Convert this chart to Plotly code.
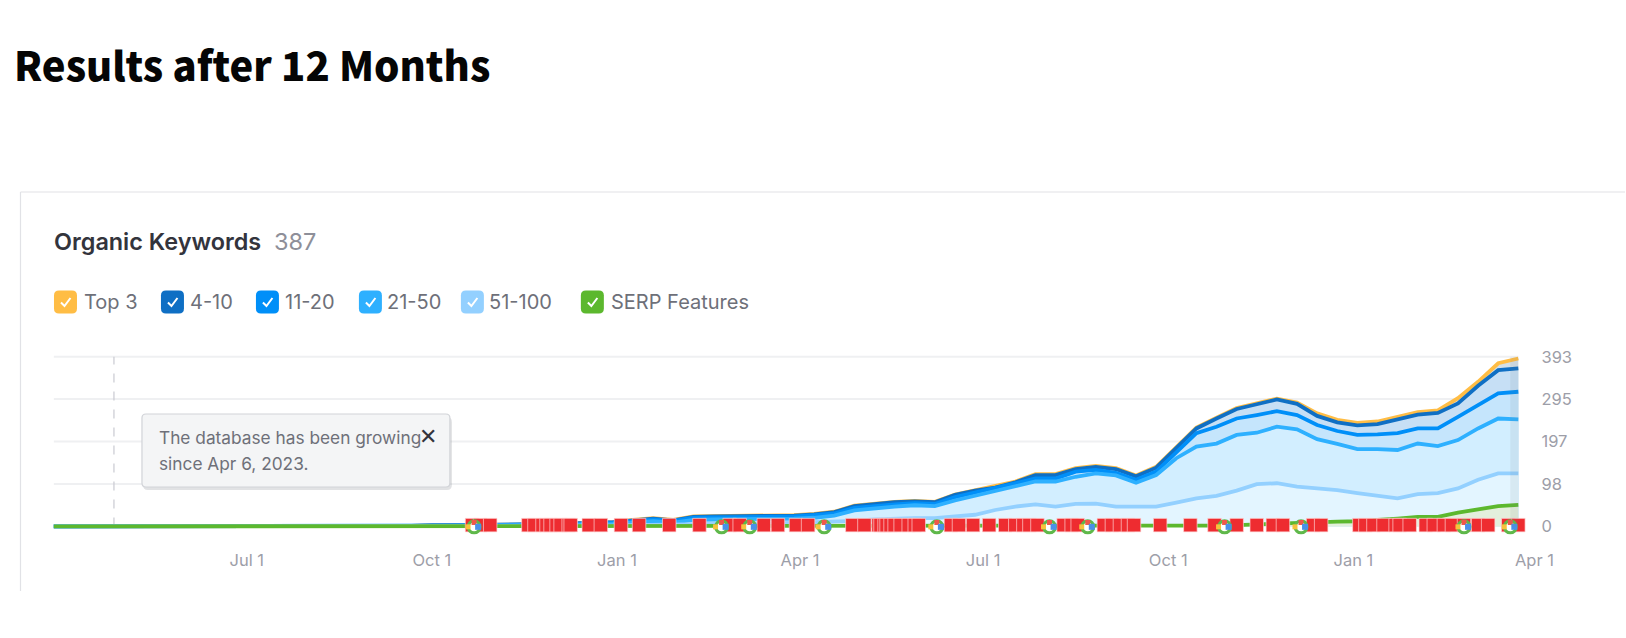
import pandas as pd
import plotly.graph_objects as go

W, H = 1640, 638
XS = 1.009  # horizontal fit to the reference

# ---- data (10 day steps from 2023-09-21) ----
dates = ["2023-03-27", "2023-09-11"] + list(pd.date_range("2023-09-21", "2025-03-24", freq="10D").strftime("%Y-%m-%d"))

top3 = [0, 0, 1, 3, 3, 3, 4, 4, 5, 5, 7, 8, 10, 15, 19, 15, 23, 24, 24, 26, 26, 26, 29, 34, 48, 53, 57, 59, 57, 74, 84,
        93, 104, 121, 121, 135, 140, 135, 118, 138, 185, 229, 252, 274, 285, 296, 287, 262, 247, 240, 243, 253, 265, 269, 297, 335, 378, 389]
pos_4_10 = [0, 0, 1, 3, 3, 3, 4, 4, 5, 5, 7, 8, 10, 14, 18, 14, 22, 23, 23, 25, 25, 25, 28, 33, 47, 52, 56, 58, 56, 73, 83,
            90, 102, 119, 119, 133, 138, 133, 116, 136, 183, 227, 250, 272, 283, 294, 284, 256, 241, 234, 237, 247, 259, 263, 285, 326, 362, 366]
pos_11_20 = [0, 0, 1, 2, 2, 3, 3, 4, 4, 5, 6, 7, 9, 12, 16, 13, 20, 21, 21, 22, 23, 23, 26, 30, 43, 48, 51, 54, 52, 68, 78,
             88, 100, 111, 111, 127, 131, 124, 108, 127, 173, 216, 231, 250, 258, 267, 258, 235, 221, 212, 213, 216, 227, 227, 254, 281, 308, 312]
pos_21_50 = [0, 0, 0, 1, 1, 2, 2, 2, 3, 3, 4, 5, 6, 9, 12, 9, 15, 16, 16, 17, 18, 18, 20, 25, 37, 42, 46, 49, 47, 60, 71,
             82, 94, 104, 104, 115, 123, 118, 101, 119, 158, 185, 192, 212, 217, 231, 225, 202, 191, 179, 179, 177, 192, 186, 200, 227, 250, 248]
pos_51_100 = [0, 0, 0, 0, 0, 1, 1, 1, 1, 1, 1, 2, 2, 3, 4, 3, 5, 6, 6, 7, 7, 8, 9, 11, 13, 16, 18, 19, 19, 22, 27,
              38, 46, 51, 46, 52, 53, 46, 46, 46, 55, 65, 71, 83, 98, 100, 92, 88, 84, 77, 72, 65, 75, 77, 88, 108, 123, 123]
serp = [0, 0, 0, 0, 0, 0, 0, 0, 0, 0, 0, 0, 0, 0, 0, 0, 0, 0, 0, 0, 0, 0, 0, 0, 0, 0, 0, 0, 0, 0, 0,
        0, 0, 0, 0, 0, 0, 0, 0, 1, 1, 2, 2, 3, 5, 6, 8, 10, 11, 12, 14, 18, 22, 22, 32, 40, 47, 50]

# days after 2023-07-01 of the red flags and the google marks
flag_days = [112, 116, 121, 140, 143, 147, 149, 151, 154, 156, 160, 161, 170, 176, 186, 195, 210, 225, 240, 245, 257, 264, 273, 279,
             301, 307, 314, 315, 317, 318, 320, 322, 325, 329, 332, 334, 350, 354, 361, 369, 377, 382, 386, 389, 393, 406, 410, 413,
             426, 430, 434, 438, 441, 454, 469, 481, 492, 502, 510, 515, 530, 534, 553, 556, 560, 565, 571, 573, 578, 586, 590, 595,
             599, 605, 612, 617, 627, 632]
google_days = [113, 236, 250, 287, 343, 399, 418, 486, 524, 605, 628]

tick_dates = ["2023-07-01", "2023-10-01", "2024-01-01", "2024-04-01", "2024-07-01", "2024-10-01", "2025-01-01", "2025-04-01"]
tick_labels = ["Jul 1", "Oct 1", "Jan 1", "Apr 1", "Jul 1", "Oct 1", "Jan 1", "Apr 1"]
y_ticks = [0, 98, 197, 295, 393]

legend_labels = ["Top 3", "4-10", "11-20", "21-50", "51-100", "SERP Features"]
legend_colors = ["#ffbd45", "#0f6fc4", "#008ff8", "#2eb0ff", "#93d0ff", "#5cb82e"]
legend_box_x = [54, 161, 256, 359, 461, 581]
legend_text_x = [82, 188, 283, 385, 487, 609]

fills = ["#d3dfe8", "#c6dff5", "#c5e5fc", "#d2eeff", "#e3f5ff", "#e3efdc"]
series = [top3, pos_4_10, pos_11_20, pos_21_50, pos_51_100, serp]

FONT = "Inter"
BASE = pd.Timestamp("2023-07-01")


def px(x):
    return x * XS / W


def py(y):
    return 1 - y / H


def rounded(x0, y0, x1, y1, r):
    return (f"M {px(x0 + r)} {py(y0)} L {px(x1 - r)} {py(y0)} Q {px(x1)} {py(y0)} {px(x1)} {py(y0 + r)} "
            f"L {px(x1)} {py(y1 - r)} Q {px(x1)} {py(y1)} {px(x1 - r)} {py(y1)} "
            f"L {px(x0 + r)} {py(y1)} Q {px(x0)} {py(y1)} {px(x0)} {py(y1 - r)} "
            f"L {px(x0)} {py(y0 + r)} Q {px(x0)} {py(y0)} {px(x0 + r)} {py(y0)} Z")


def day(d):
    return BASE + pd.Timedelta(days=d)


fig = go.Figure()

# drawn top down, each fill hides the part under it
for name, vals, col, fill in zip(legend_labels, series, legend_colors, fills):
    fig.add_trace(go.Scatter(x=dates, y=vals, name=name, mode="lines", fill="tozeroy", fillcolor=fill,
                             line=dict(color=col, width=3.8), showlegend=False))

# flags
fig.add_trace(go.Scatter(x=[day(d) for d in flag_days], y=[3] * len(flag_days), mode="markers", showlegend=False, cliponaxis=False,
                         marker=dict(symbol="square", size=13.5, color="#ee2c30",
                                     line=dict(color="rgba(255,215,215,0.75)", width=0.9))))

# google marks, a green ring with coloured bits on it
fig.add_trace(go.Scatter(x=[day(d) for d in google_days], y=[-1] * len(google_days), mode="markers", showlegend=False, cliponaxis=False,
                         marker=dict(symbol="circle", size=12, color="white", line=dict(color="#5fb84a", width=3))))
fig.add_trace(go.Scatter(x=[day(d) for d in google_days], y=[9] * len(google_days), mode="markers", showlegend=False, cliponaxis=False,
                         marker=dict(symbol="square", size=5, color="#f0584a")))
fig.add_trace(go.Scatter(x=[day(d - 3) for d in google_days], y=[-1] * len(google_days), mode="markers", showlegend=False, cliponaxis=False,
                         marker=dict(symbol="square", size=5, color="#f7c23c")))
fig.add_trace(go.Scatter(x=[day(d + 2) for d in google_days], y=[-1] * len(google_days), mode="markers", showlegend=False, cliponaxis=False,
                         marker=dict(symbol="square", size=6, color="#4a90e8")))

shapes = []
# card border
shapes.append(dict(type="line", xref="paper", yref="paper", x0=px(20.5), x1=1, y0=py(192), y1=py(192), line=dict(color="#e1e2e6", width=1.2)))
shapes.append(dict(type="line", xref="paper", yref="paper", x0=px(20.5), x1=px(20.5), y0=py(192), y1=py(591), line=dict(color="#e1e2e6", width=1.2)))
# grid
for t in y_ticks[1:]:
    shapes.append(dict(type="line", xref="x", yref="y", x0=dates[0], x1=dates[-1], y0=t, y1=t, layer="below",
                       line=dict(color="#eff0f2", width=2)))
# dashed line
shapes.append(dict(type="line", xref="x", yref="y", x0="2023-04-26", x1="2023-04-26", y0=0, y1=393, layer="below",
                   line=dict(color="#c9cad1", width=1.2, dash="dash")))
# grey strip on the right end
shapes.append(dict(type="rect", xref="x", yref="y", x0="2025-03-20", x1=dates[-1], y0=0, y1=393,
                   fillcolor="rgba(120,125,130,0.10)", line=dict(width=0), layer="above"))
# tooltip shadow + box
shapes.append(dict(type="path", xref="paper", yref="paper", path=rounded(143, 417, 452, 490, 5), fillcolor="rgba(120,125,130,0.22)", line=dict(width=0)))
shapes.append(dict(type="path", xref="paper", yref="paper", path=rounded(142, 414, 450, 487, 4), fillcolor="#f4f5f6", line=dict(color="#d2d4d8", width=1.2)))
# legend boxes
for bx, col in zip(legend_box_x, legend_colors):
    shapes.append(dict(type="path", xref="paper", yref="paper", path=rounded(bx, 290.5, bx + 23, 313.5, 5), fillcolor=col, line=dict(width=0)))
    check = f"M {px(bx + 7)} {py(302.5)} L {px(bx + 10.5)} {py(306)} L {px(bx + 16.5)} {py(298)}"
    shapes.append(dict(type="path", xref="paper", yref="paper", path=check, line=dict(color="white", width=2)))

annotations = [
    dict(text="Results after 12 Months", x=px(12.3), y=py(64), font=dict(family="Noto Sans CJK JP", size=40, color="#050505", weight=900)),
    dict(text="Organic Keywords", x=px(52), y=py(241.5), font=dict(family=FONT, size=23.4, color="#33343c", weight=600)),
    dict(text="387", x=px(272), y=py(241.5), font=dict(family=FONT, size=23.5, color="#8e8f99")),
    dict(text="The database has been growing", x=px(157), y=py(437), font=dict(family=FONT, size=17.3, color="#6e7079")),
    dict(text="since Apr 6, 2023.", x=px(157), y=py(463), font=dict(family=FONT, size=17.3, color="#6e7079")),
    dict(text="✕", x=px(417), y=py(436), font=dict(family="DejaVu Sans", size=22, color="#33343c", weight=700)),
]
for label, tx in zip(legend_labels, legend_text_x):
    annotations.append(dict(text=label, x=px(tx), y=py(302), font=dict(family=FONT, size=20, color="#6e7079")))
for a in annotations:
    a.update(xref="paper", yref="paper", xanchor="left", yanchor="middle", showarrow=False)

fig.update_layout(
    width=W, height=H, margin=dict(l=0, r=0, t=0, b=0),
    paper_bgcolor="white", plot_bgcolor="white", showlegend=False,
    shapes=shapes, annotations=annotations,
    xaxis=dict(domain=[px(53.6), px(1538.8)], range=[dates[0], "2025-04-03"], showgrid=False, zeroline=False, showline=False,
               tickmode="array", tickvals=tick_dates, ticktext=tick_labels, ticks="",
               tickfont=dict(family=FONT, size=16.5, color="#9d9ea8"), ticklabelstandoff=8),
    yaxis=dict(domain=[py(540), py(345)], range=[-31.5, 420.3], side="right", showgrid=False, zeroline=False, showline=False,
               tickmode="array", tickvals=y_ticks, ticks="", ticklabelposition="outside",
               tickfont=dict(family=FONT, size=16.5, color="#9d9ea8"), ticklabelstandoff=2),
)

fig.write_html("out.html", config={"displayModeBar": False},
               post_script="document.body.style.margin='0';document.body.style.overflow='hidden';")
